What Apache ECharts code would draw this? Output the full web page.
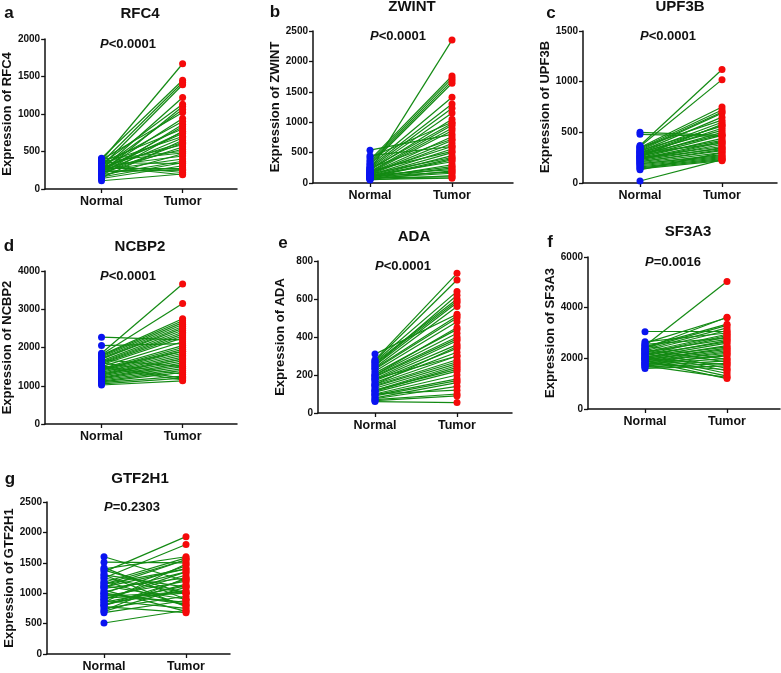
<!DOCTYPE html>
<html><head><meta charset="utf-8">
<script src="https://cdn.jsdelivr.net/npm/echarts@6/dist/echarts.min.js"></script>
<style>html,body{margin:0;padding:0;background:#fff}#c{width:781px;height:673px}</style>
</head><body><div id="c"></div>
<script>
// ---- data ----
const groups = ['Normal', 'Tumor'];
const genes = ['RFC4', 'ZWINT', 'UPF3B', 'NCBP2', 'ADA', 'SF3A3', 'GTF2H1'];
const letters = ['a', 'b', 'c', 'd', 'e', 'f', 'g'];
const pTexts = ['<0.0001', '<0.0001', '<0.0001', '<0.0001', '<0.0001', '=0.0016', '=0.2303'];
const yMaxes = [2000, 2500, 1500, 4000, 800, 6000, 2500];
const yIntervals = [500, 500, 500, 1000, 200, 2000, 500];

const rfc4Normal = [380,410,350,300,260,330,220,280,390,250,310,200,240,360,180,270,340,230,150,290,320,210,260,400,170,300,250,190,350,140,280,230,320,110,260,210,370,160,240,300];
const rfc4Tumor  = [1670,1450,1420,1390,1220,1130,1100,1060,1020,940,900,860,830,800,770,740,700,680,650,620,590,560,530,500,470,440,400,370,340,310,280,250,220,200,760,610,480,350,260,190];

const zwintNormal = [540,450,420,380,350,320,300,280,260,240,220,200,190,180,170,160,150,140,130,120,110,100,90,80,70,60,50,210,230,250,150,120,100,80,170,200,130,90,60,110];
const zwintTumor  = [800,600,1000,1760,1720,1680,1640,1410,1300,1230,1150,2350,950,900,860,760,700,650,560,500,450,400,380,300,250,200,120,1050,980,720,420,350,270,160,600,520,220,100,80,180];

const upf3bNormal = [500,480,370,360,350,340,330,320,310,300,290,280,270,260,250,240,230,220,210,200,190,180,170,160,150,140,130,20,300,260,230,350,280,210,250,320,190,270,240,300];
const upf3bTumor  = [470,460,1120,1020,750,720,700,690,650,600,570,540,500,470,440,410,380,350,320,300,280,260,250,240,230,220,300,230,520,580,400,620,480,330,360,560,270,420,340,390];

const ncbp2Normal = [2270,2050,1850,1820,1800,1780,1750,1720,1700,1680,1650,1620,1600,1580,1550,1520,1500,1480,1450,1420,1400,1380,1350,1320,1300,1280,1250,1220,1200,1180,1150,1120,1100,1080,1050,1020,1600,1450,1300,1700];
const ncbp2Tumor  = [2200,2100,3660,3150,2750,2700,2650,2600,2550,1500,2450,2400,1300,2300,2250,1200,2150,1150,2050,2000,1950,1900,1850,1800,1750,1700,1650,1600,1550,1500,1450,1400,1350,1250,1200,1130,2350,1900,1700,2500];

const adaNormal = [310,280,275,270,265,260,250,240,235,230,220,210,200,195,190,180,175,170,160,150,145,140,130,120,115,110,100,95,90,80,75,70,65,60,250,200,150,120,100,180];
const adaTumor  = [520,735,700,640,600,590,580,560,510,500,480,440,420,400,390,380,360,340,320,300,280,270,260,250,240,220,200,180,170,160,140,100,90,55,620,450,350,230,120,300];

const sf3a3Normal = [3050,2650,2600,2550,2500,2450,2400,2350,2300,2250,2200,2150,2100,2050,2000,1950,1900,1850,1800,1750,1700,1650,1600,2300,2200,2100,2000,1900,2400,2250,2150,2050,1950,1850,1750,2500,2350,2000,1800,1700];
const sf3a3Tumor  = [3050,3000,3600,2800,5030,3350,3300,3200,3100,2950,2900,2850,2700,2600,2500,2400,2300,2200,2100,2000,1900,1800,1700,1600,1500,1400,1300,1200,3620,2750,2650,2450,2350,2250,2150,1950,1850,1750,1550,1250];

const gtf2h1Normal = [1600,1510,1420,1400,1380,1350,1300,1250,1200,1180,1150,1120,1100,1080,1050,1020,1000,980,950,920,900,880,850,820,800,780,750,720,700,680,510,1250,1100,1000,900,800,1300,1150,950,850];
const gtf2h1Tumor  = [1200,1500,900,1600,1000,1930,1100,1800,800,1580,1400,900,1550,1250,700,1350,1450,850,1200,1000,1300,750,1480,1050,1150,680,950,1250,1100,880,720,1000,1400,820,1350,1230,780,1550,1020,1120];

const normals = [rfc4Normal, zwintNormal, upf3bNormal, ncbp2Normal, adaNormal, sf3a3Normal, gtf2h1Normal];
const tumors  = [rfc4Tumor, zwintTumor, upf3bTumor, ncbp2Tumor, adaTumor, sf3a3Tumor, gtf2h1Tumor];

// ---- layout (pixels) ----
const grids = [
  {left: 43, top: 39, width: 194, height: 150},
  {left: 313, top: 31, width: 200, height: 152},
  {left: 583, top: 31, width: 194, height: 152},
  {left: 43, top: 271, width: 194, height: 153},
  {left: 318, top: 261, width: 194, height: 152},
  {left: 588, top: 257, width: 192, height: 152},
  {left: 47, top: 502, width: 183, height: 152}
];
const titlePos = [[140,15],[412,8],[680,8],[140,248],[414,238],[688,233],[140,480]];
const letterPos = [[9,16],[275,15],[551,16],[9,249],[283,246],[550,245],[10,482]];
const normalOffset = 57, groupSpacing = 82;

const FONT = 'Arial, "Liberation Sans", sans-serif';
const option = {
  backgroundColor: '#fff',
  animation: false,
  grid: [], xAxis: [], yAxis: [], series: [], title: [], graphic: []
};

genes.forEach((g, i) => {
  const gr = grids[i];
  option.grid.push({left: gr.left, top: gr.top, width: gr.width, height: gr.height, containLabel: false});
  const xMin = 1 - normalOffset / groupSpacing;
  const xMax = 1 + (gr.width - normalOffset) / groupSpacing;
  option.xAxis.push({
    type: 'value', gridIndex: i, min: xMin, max: xMax,
    splitLine: {show: false},
    axisLine: {show: true, onZero: false, lineStyle: {color: '#111', width: 1.5}},
    axisTick: {show: true, customValues: [1, 2], length: 4, lineStyle: {color: '#111', width: 1.3}},
    axisLabel: {show: true, customValues: [1, 2], margin: 6,
      formatter: v => (Math.round(v) === 1 ? groups[0] : (Math.round(v) === 2 ? groups[1] : '')),
      color: '#111', fontWeight: 'bold', fontSize: 12.5, fontFamily: FONT}
  });
  option.yAxis.push({
    type: 'value', gridIndex: i, min: 0, max: yMaxes[i], interval: yIntervals[i],
    splitLine: {show: false},
    axisLine: {show: true, lineStyle: {color: '#111', width: 1.5}},
    axisTick: {show: true, length: 4, lineStyle: {color: '#111', width: 1.3}},
    axisLabel: {color: '#111', fontWeight: 'bold', fontSize: 10, margin: 5, fontFamily: FONT,
      formatter: v => String(v)},
    name: 'Expression of ' + g, nameLocation: 'middle', nameGap: 31,
    nameTextStyle: {color: '#111', fontWeight: 'bold', fontSize: 13, fontFamily: FONT}
  });
  const n = normals[i], t = tumors[i];
  option.series.push({
    type: 'lines', coordinateSystem: 'cartesian2d', xAxisIndex: i, yAxisIndex: i,
    lineStyle: {color: '#138a13', width: 1.2, opacity: 1},
    data: n.map((v, k) => ({coords: [[1, v], [2, t[k]]]})),
    z: 1
  });
  option.series.push({
    type: 'scatter', xAxisIndex: i, yAxisIndex: i, symbolSize: 7,
    itemStyle: {color: '#0a14f0', opacity: 1},
    data: n.map(v => [1, v]), z: 3
  });
  option.series.push({
    type: 'scatter', xAxisIndex: i, yAxisIndex: i, symbolSize: 7,
    itemStyle: {color: '#f50a0a', opacity: 1},
    data: t.map(v => [2, v]), z: 3
  });
  option.title.push({
    text: g, left: titlePos[i][0], top: titlePos[i][1] - 9, textAlign: 'center', padding: 0,
    textStyle: {color: '#111', fontWeight: 'bold', fontSize: 15, fontFamily: FONT}
  });
  option.title.push({
    text: letters[i], left: letterPos[i][0], top: letterPos[i][1] - 11, textAlign: 'center', padding: 0,
    textStyle: {color: '#111', fontWeight: 'bold', fontSize: 17, fontFamily: FONT}
  });
  option.title.push({
    text: '{i|P}' + pTexts[i], left: gr.left + normalOffset, top: gr.top - 1, padding: 0,
    textStyle: {color: '#111', fontWeight: 'bold', fontSize: 13, fontFamily: FONT,
      rich: {i: {fontStyle: 'italic', fontWeight: 'bold', fontSize: 13, color: '#111', fontFamily: FONT}}}
  });
});

const chart = echarts.init(document.getElementById('c'), null, {renderer: 'canvas'});
chart.setOption(option);
</script>
</body></html>
